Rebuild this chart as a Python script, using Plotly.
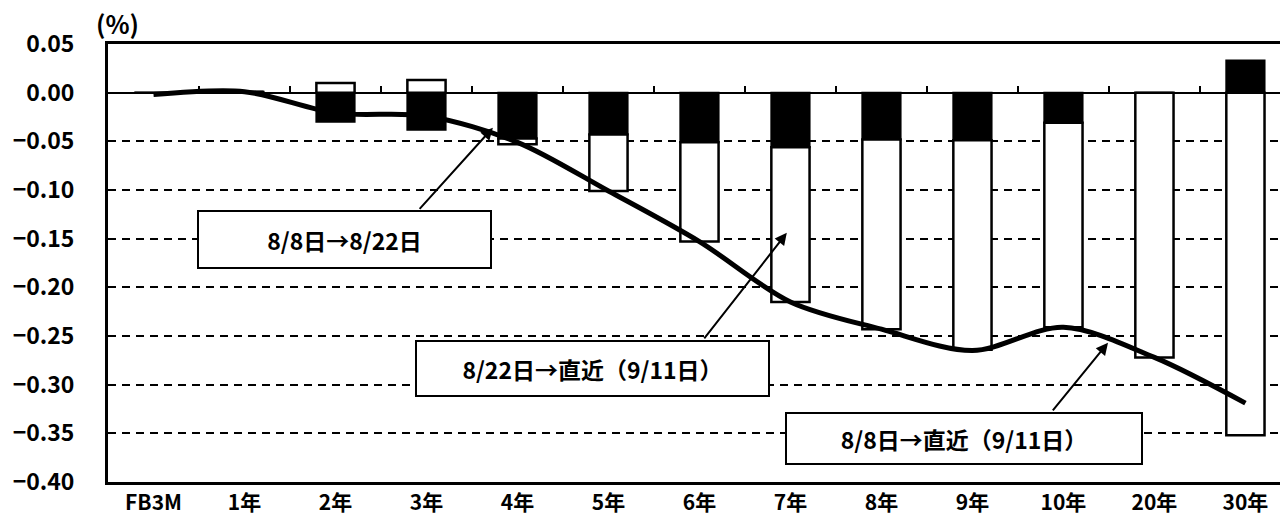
import plotly.graph_objects as go

# Yield changes by maturity (percentage points)
categories = ["FB3M", "1年", "2年", "3年", "4年", "5年", "6年", "7年", "8年", "9年", "10年", "20年", "30年"]
chg_0808_0822 = [0.000, 0.001, -0.030, -0.038, -0.047, -0.043, -0.051, -0.056, -0.048, -0.049, -0.031, 0.000, 0.033]
chg_0822_0911 = [0.000, 0.000, 0.010, 0.013, -0.006, -0.058, -0.102, -0.159, -0.195, -0.215, -0.210, -0.272, -0.352]
chg_0808_0911 = [-0.002, 0.001, -0.021, -0.024, -0.051, -0.101, -0.153, -0.215, -0.243, -0.265, -0.241, -0.272, -0.319]
y_ticks = [0.05, 0.00, -0.05, -0.10, -0.15, -0.20, -0.25, -0.30, -0.35, -0.40]

FONT = "Noto Sans CJK JP"
idx = list(range(len(categories)))
x_range = [-0.5, 12.38]
y_range = [-0.40, 0.05]

fig = go.Figure()
fig.add_trace(go.Bar(
    x=idx, y=chg_0808_0822, width=0.42, name="8/8日→8/22日",
    marker=dict(color="black", line=dict(color="black", width=2)),
))
fig.add_trace(go.Bar(
    x=idx, y=chg_0822_0911, width=0.42, name="8/22日→直近（9/11日）",
    marker=dict(color="white", line=dict(color="black", width=2.5)),
))
fig.add_trace(go.Scatter(
    x=idx, y=chg_0808_0911, xaxis="x2", mode="lines", name="8/8日→直近（9/11日）",
    line=dict(color="black", width=5, shape="spline", smoothing=0.9),
))

zero_pos = (0 - y_range[0]) / (y_range[1] - y_range[0])

fig.update_layout(
    width=1280, height=523,
    margin=dict(l=108, r=0, t=44, b=41),
    paper_bgcolor="white", plot_bgcolor="white",
    barmode="relative",
    showlegend=False,
    font=dict(family=FONT, color="black", weight="bold"),
    xaxis=dict(
        range=x_range, tickvals=idx, ticktext=categories,
        showline=True, linecolor="black", linewidth=3, mirror=True,
        showgrid=False, zeroline=False, ticks="",
        tickfont=dict(family=FONT, size=21, color="black", weight="bold"),
    ),
    # category axis drawn along the zero line with separators between maturities
    xaxis2=dict(
        range=x_range, overlaying="x", anchor="free", position=zero_pos, side="top",
        tickvals=[i + 0.5 for i in idx[:-1]], ticks="outside", ticklen=6,
        tickwidth=1.5, tickcolor="black",
        showticklabels=False, showline=True, linecolor="black", linewidth=1.5,
        showgrid=False, zeroline=False,
    ),
    yaxis=dict(
        range=y_range, tickvals=y_ticks, tickformat=".2f",
        showline=True, linecolor="black", linewidth=3,
        showgrid=True, gridcolor="black", gridwidth=1.5, griddash="8px,6px",
        zeroline=False, ticks="", ticklabelstandoff=26,
        tickfont=dict(family=FONT, size=23, color="black", weight="bold"),
    ),
)

fig.add_annotation(
    text="(%)", xref="paper", yref="paper", x=0, y=1, xanchor="center", yanchor="middle",
    xshift=9, yshift=21, showarrow=False,
    font=dict(family=FONT, size=25, color="black", weight="bold"),
)

# Labelled boxes: (text, box centre x, box centre y, box width, box height)
boxes = [
    ("8/8日→8/22日", 2.10, -0.151, 291, 55),
    ("8/22日→直近（9/11日）", 4.82, -0.283, 351, 53),
    ("8/8日→直近（9/11日）", 8.91, -0.355, 354, 49),
]
for text, bx, by, w, h in boxes:
    fig.add_annotation(
        text=text, x=bx, y=by, xref="x", yref="y", showarrow=False,
        width=w, height=h, align="center", valign="middle",
        bgcolor="white", bordercolor="black", borderwidth=2, borderpad=0,
        font=dict(family=FONT, size=23, color="black", weight="bold"),
    )

# Pointer arrows: (tail x, tail y, head x, head y)
arrows = [
    (2.91, -0.121, 3.73, -0.036),
    (6.04, -0.254, 6.96, -0.144),
    (9.87, -0.328, 10.49, -0.257),
]
for tx, ty, hx, hy in arrows:
    fig.add_annotation(
        text="", x=hx, y=hy, ax=tx, ay=ty, xref="x", yref="y", axref="x", ayref="y",
        showarrow=True, arrowhead=2, arrowsize=1.2, arrowwidth=2, arrowcolor="black",
    )

fig.write_html("out.html")
